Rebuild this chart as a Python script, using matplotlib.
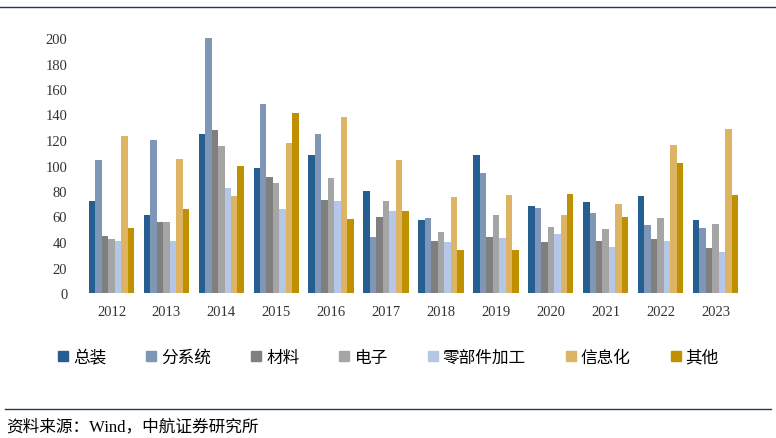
import numpy as np
import matplotlib.pyplot as plt
from matplotlib.lines import Line2D

plt.rcParams['font.family'] = ['Liberation Serif', 'Noto Sans CJK SC']

# 年份与各细分领域数据
years = ['2012', '2013', '2014', '2015', '2016', '2017',
         '2018', '2019', '2020', '2021', '2022', '2023']
series_names = ['总装', '分系统', '材料', '电子', '零部件加工', '信息化', '其他']

zongzhuang = [72, 61, 125, 98, 108, 80, 57, 108, 68, 71, 76, 57]
fenxitong = [104, 120, 200, 148, 125, 44, 59, 94, 67, 63, 53, 51]
cailiao = [45, 56, 128, 91, 73, 60, 41, 44, 40, 41, 42, 35]
dianzi = [42, 56, 115, 86, 90, 72, 48, 61, 52, 50, 59, 54]
lingbujian = [41, 41, 82, 66, 72, 64, 40, 43, 46, 36, 41, 32]
xinxihua = [123, 105, 76, 118, 138, 104, 75, 77, 61, 70, 116, 129]
qita = [51, 66, 100, 141, 58, 64, 34, 34, 78, 60, 102, 77]

datos = [zongzhuang, fenxitong, cailiao, dianzi, lingbujian, xinxihua, qita]
colores = ['#255E91', '#7F96B6', '#7F7F7F', '#A5A5A5', '#B4C7E7', '#DDB463', '#BF9000']

fig = plt.figure(figsize=(7.76, 4.39), dpi=100)
ax = fig.add_axes([84/776, 145/439, 659/776, 255/439])

x = np.arange(len(years))
ancho = 0.118
for i, (serie, color) in enumerate(zip(datos, colores)):
    offset = (i - 3) * ancho
    ax.bar(x + offset, serie, ancho, color=color, label=series_names[i])

ax.set_xlim(-0.5, len(years) - 0.5)
ax.set_ylim(0, 200)
ax.set_yticks(np.arange(0, 201, 20))
ax.set_xticks(x)
ax.set_xticklabels(years)
ax.tick_params(axis='both', length=0, labelsize=10.5, colors='#333333')
ax.tick_params(axis='y', pad=12)
ax.tick_params(axis='x', pad=9)
for s in ax.spines.values():
    s.set_visible(False)

# leyenda
handles = [Line2D([0], [0], marker='s', linestyle='none', markersize=7,
                  markerfacecolor=c, markeredgecolor=c) for c in colores]
fig.legend(handles, series_names, loc='center', bbox_to_anchor=(386/776, 1 - 358/439),
           ncol=7, frameon=False, handletextpad=0.0, handlelength=1.2,
           columnspacing=2.1, prop={'family': ['Noto Sans CJK SC'], 'size': 12})

# líneas y fuente
fig.add_artist(Line2D([0, 1], [1 - 8/439, 1 - 8/439], color='#1F3A5F', lw=1))
fig.add_artist(Line2D([5/776, 771/776], [1 - 410/439, 1 - 410/439], color='#1F3A5F', lw=1))
fig.text(6/776, 1 - 427/439, '资料来源：Wind，中航证券研究所', fontsize=12,
         va='center', ha='left')

fig.savefig('out.png', dpi=100)
